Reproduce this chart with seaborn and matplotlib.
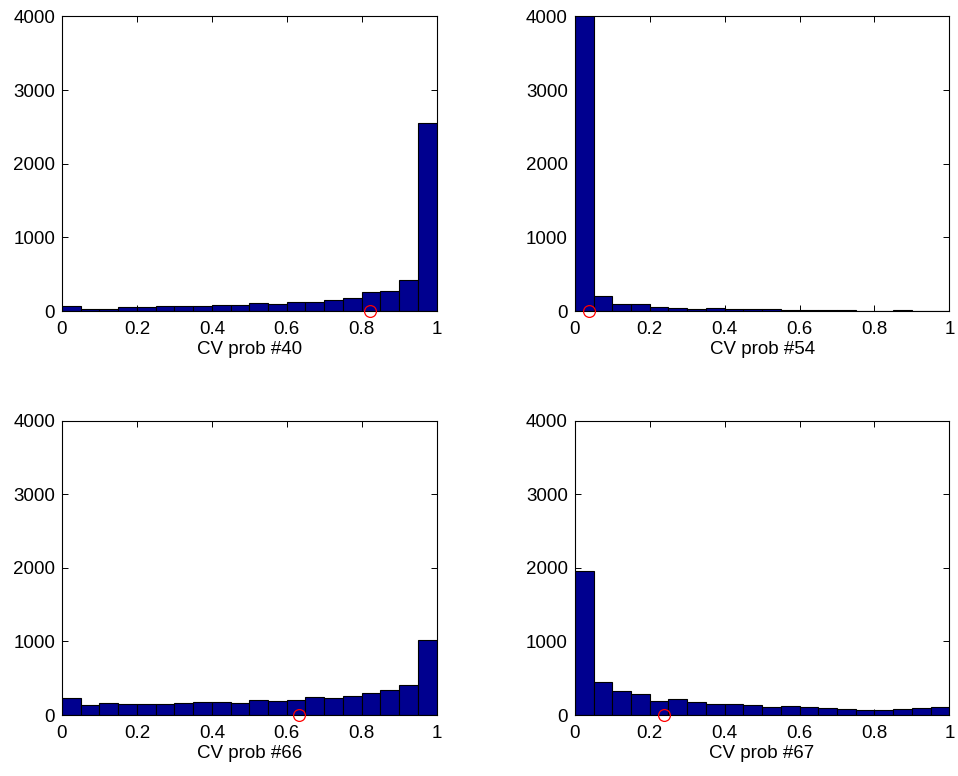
import numpy as np
import pandas as pd
import matplotlib
matplotlib.use("Agg")
import matplotlib.pyplot as plt
import seaborn as sns
from matplotlib.ticker import FuncFormatter

# Data (20 bins on [0,1])
n_bins = 20
labels = ["CV prob #40", "CV prob #54", "CV prob #66", "CV prob #67"]
counts_40 = [68, 36, 36, 50, 59, 72, 68, 68, 77, 86, 113, 104, 131, 131, 158, 185, 258, 276, 429, 2550]
counts_54 = [4400, 208, 95, 95, 54, 45, 32, 41, 32, 27, 27, 18, 14, 14, 14, 9, 9, 14, 9, 5]
counts_66 = [226, 136, 163, 154, 154, 154, 167, 172, 176, 158, 208, 194, 203, 244, 235, 253, 298, 334, 402, 1017]
counts_67 = [1957, 452, 325, 289, 185, 221, 176, 154, 145, 131, 113, 118, 113, 95, 77, 63, 63, 81, 95, 113]
observed = [0.821, 0.038, 0.634, 0.238]
all_counts = [counts_40, counts_54, counts_66, counts_67]
yticks = [0, 1000, 2000, 3000, 4000]
xticks = [0, 0.2, 0.4, 0.6, 0.8, 1]

sns.set_theme(style="white")
plt.rcParams["font.family"] = ["Liberation Sans", "DejaVu Sans"]
plt.rcParams["text.color"] = "black"
plt.rcParams["axes.labelcolor"] = "black"
plt.rcParams["xtick.color"] = "black"
plt.rcParams["ytick.color"] = "black"
plt.rcParams["xtick.direction"] = "in"
plt.rcParams["ytick.direction"] = "in"

fig = plt.figure(figsize=(9.58, 7.76), dpi=100)
positions = [
    [0.0647, 0.599, 0.391, 0.380],
    [0.600, 0.599, 0.391, 0.380],
    [0.0647, 0.0786, 0.391, 0.379],
    [0.600, 0.0786, 0.391, 0.379],
]

centers = (np.arange(n_bins) + 0.5) / n_bins

def fmt(v, pos):
    s = f"{v:.1f}"
    if s.endswith(".0"):
        s = s[:-2]
    return s

FS = 13.5

for pos, lab, cnts, obs in zip(positions, labels, all_counts, observed):
    ax = fig.add_axes(pos)
    df = pd.DataFrame({"x": centers, "w": np.asarray(cnts, dtype=float)})
    sns.histplot(data=df, x="x", weights="w", bins=n_bins, binrange=(0, 1), ax=ax,
                 color="#00008F", edgecolor="black", linewidth=0.8, alpha=1.0)
    ax.plot([obs], [0], marker="o", markersize=8.5, markerfacecolor="none",
            markeredgecolor="red", markeredgewidth=0.9, linestyle="none",
            clip_on=False, zorder=5)
    ax.set_xlim(0, 1)
    ax.set_ylim(0, 4000)
    ax.set_xticks(xticks)
    ax.set_yticks(yticks)
    ax.xaxis.set_major_formatter(FuncFormatter(fmt))
    ax.set_xlabel(lab, fontsize=FS, labelpad=2.5, color="black")
    ax.set_ylabel("")
    ax.tick_params(axis="x", pad=7)
    ax.tick_params(axis="y", pad=5)
    ax.tick_params(axis="both", which="both", direction="in", length=4,
                   width=0.7, color="black", labelcolor="black", labelsize=FS,
                   top=True, right=True, bottom=True, left=True)
    for sp in ax.spines.values():
        sp.set_visible(True)
        sp.set_color("black")
        sp.set_linewidth(0.8)

fig.savefig("out.png", dpi=100, facecolor="white")
